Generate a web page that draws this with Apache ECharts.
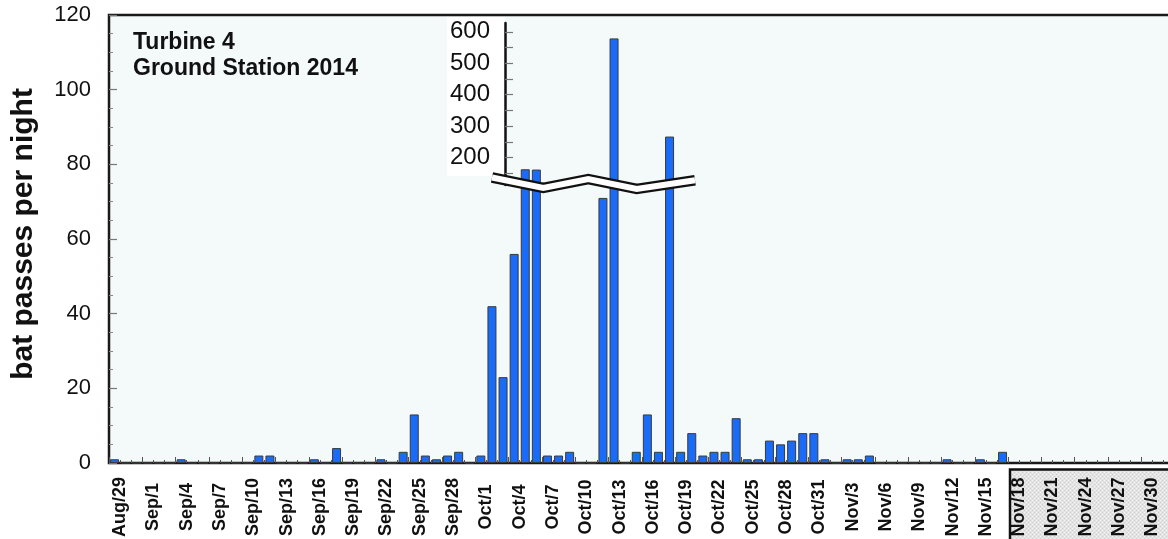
<!DOCTYPE html>
<html><head><meta charset="utf-8">
<script src="https://cdn.jsdelivr.net/npm/echarts@6/dist/echarts.min.js"></script>
<style>html,body{margin:0;padding:0;background:#fff}#c{width:1168px;height:539px}</style>
</head><body><div id="c"></div>
<script>
const categories = [
 'Aug/29','Aug/30','Aug/31',
 'Sep/1','Sep/2','Sep/3','Sep/4','Sep/5','Sep/6','Sep/7','Sep/8','Sep/9','Sep/10',
 'Sep/11','Sep/12','Sep/13','Sep/14','Sep/15','Sep/16','Sep/17','Sep/18','Sep/19','Sep/20',
 'Sep/21','Sep/22','Sep/23','Sep/24','Sep/25','Sep/26','Sep/27','Sep/28','Sep/29','Sep/30',
 'Oct/1','Oct/2','Oct/3','Oct/4','Oct/5','Oct/6','Oct/7','Oct/8','Oct/9','Oct/10',
 'Oct/11','Oct/12','Oct/13','Oct/14','Oct/15','Oct/16','Oct/17','Oct/18','Oct/19','Oct/20',
 'Oct/21','Oct/22','Oct/23','Oct/24','Oct/25','Oct/26','Oct/27','Oct/28','Oct/29','Oct/30','Oct/31',
 'Nov/1','Nov/2','Nov/3','Nov/4','Nov/5','Nov/6','Nov/7','Nov/8','Nov/9','Nov/10',
 'Nov/11','Nov/12','Nov/13','Nov/14','Nov/15','Nov/16','Nov/17','Nov/18','Nov/19','Nov/20',
 'Nov/21','Nov/22','Nov/23','Nov/24','Nov/25','Nov/26','Nov/27','Nov/28','Nov/29','Nov/30',
 'Dec/1','Dec/2'
];
// bat passes per night (null = no data)
const batPasses = [
 1,0,0, 0,0,0,1,0,0,0,0,0,0,
 2,2,0,0,0,1,0,4,0,0,
 0,1,0,3,13,2,1,2,3,0,
 2,42,23,56,163,162,2,2,3,0,
 0,71,579,0,3,13,3,267,3,8,
 2,3,3,12,1,1,6,5,6,8,8,
 1,0,1,1,2,0,0,0,0,0,
 0,1,0,0,1,0,3,null,null,null,
 null,null,null,null,null,null,null,null,null,null,
 null,null
];
const mainAxisTicks = [0, 20, 40, 60, 80, 100, 120];
const insetTickValues = [150, 200, 250, 300, 350, 400, 450, 500, 550, 600];
const insetLabelValues = [200, 300, 400, 500, 600];
const BREAK_AT = 120;      // values above this go to the broken (upper) scale
const BREAK_LOW = 74.5;    // main-scale height where broken bars meet the break

const FONT = '"Liberation Sans", Arial, Helvetica, sans-serif';
const barColor = '#1a6cf8';

const mainData = batPasses.map(v => v == null ? '-' : (v > BREAK_AT ? BREAK_LOW : v));
const insetData = batPasses.map(v => (v != null && v > BREAK_AT) ? v : '-');
// date labels sit on the night boundaries (right edge of each night's band)
const boundaryLabels = [''].concat(categories);

const pc = document.createElement('canvas'); pc.width = 4; pc.height = 4;
const g = pc.getContext('2d');
g.fillStyle = '#e3e3e3'; g.fillRect(0,0,4,4);
g.fillStyle = '#f5f5f5'; g.fillRect(0,0,1,1); g.fillRect(2,2,1,1);
g.fillStyle = '#cfcfcf'; g.fillRect(2,0,1,1); g.fillRect(0,2,1,1);

const zig = [[492,177.5],[543.3,188],[588.3,179],[636.7,189],[695,180.3]];

const chart = echarts.init(document.getElementById('c'), null, {renderer:'canvas', width:1168, height:539});
const gridW = 11.1 * categories.length;
chart.setOption({
  animation: false,
  backgroundColor: '#ffffff',
  textStyle: {fontFamily: FONT},
  title: {
    text: 'Turbine 4\nGround Station 2014',
    left: 133, top: 30, padding: 0,
    textStyle: {fontSize: 23, fontWeight: 'bold', color: '#111', lineHeight: 26, fontFamily: FONT}
  },
  grid: [
    {left: 109, top: 15, width: gridW, height: 448, show: true, outerBoundsMode: 'none', containLabel: false,
     backgroundColor: '#f4f9f9', borderColor: '#1a1a1a', borderWidth: 2.5},
    {left: 109, top: 23, width: gridW, height: 162, show: false, outerBoundsMode: 'none', containLabel: false}
  ],
  xAxis: [
    {type: 'category', gridIndex: 0, data: categories, position: 'bottom',
     axisLine: {show: false},
     axisTick: {show: true, interval: 0, inside: true, length: 3, lineStyle: {color: '#555', width: 1}},
     axisLabel: {show: false},
     splitLine: {show: false}},
    {type: 'category', gridIndex: 0, data: categories, position: 'bottom',
     axisLine: {show: false},
     axisTick: {show: true, interval: 2, inside: true, length: 6, lineStyle: {color: '#555', width: 1}},
     axisLabel: {show: false}, splitLine: {show: false}},
    {type: 'category', gridIndex: 1, data: categories, show: false},
    {type: 'category', gridIndex: 0, data: boundaryLabels, boundaryGap: false, position: 'bottom',
     axisLine: {show: false}, axisTick: {show: false}, splitLine: {show: false},
     axisLabel: {interval: (i) => i % 3 === 1, rotate: 90, align: 'center', verticalAlign: 'middle', margin: 44,
       fontSize: 18, fontWeight: 'bold', color: '#111', fontFamily: FONT}}
  ],
  yAxis: [
    {type: 'value', gridIndex: 0, min: 0, max: 120, interval: 20,
     axisLine: {show: false},
     axisTick: {show: true, inside: true, length: 8, lineStyle: {color: '#777', width: 1.2}},
     minorTick: {show: true, splitNumber: 4, length: 4, lineStyle: {color: '#888', width: 1}},
     axisLabel: {fontSize: 22, color: '#111', margin: 18, fontFamily: FONT},
     splitLine: {show: false},
     name: 'bat passes per night', nameLocation: 'middle', nameGap: 70, nameRotate: 90,
     nameTextStyle: {fontSize: 30, fontWeight: 'bold', color: '#111', fontFamily: FONT, padding: [0, 0, 0, 10]}},
    {type: 'value', gridIndex: 1, min: 113, max: 628, offset: -396, z: 5,
     axisLine: {show: true, lineStyle: {color: '#111', width: 2.5}},
     axisTick: {show: true, inside: true, length: 8, customValues: insetTickValues,
       lineStyle: {color: '#777', width: 1.2}},
     axisLabel: {fontSize: 24, color: '#111', margin: 15, customValues: insetLabelValues, fontFamily: FONT},
     splitLine: {show: false}}
  ],
  series: [
    {type: 'bar', xAxisIndex: 0, yAxisIndex: 0, data: mainData, barWidth: 9, clip: true,
     itemStyle: {color: barColor, borderColor: '#3a3a3a', borderWidth: 1}},
    {type: 'bar', xAxisIndex: 2, yAxisIndex: 1, data: insetData, barWidth: 9, clip: true,
     itemStyle: {color: barColor, borderColor: '#3a3a3a', borderWidth: 1}}
  ],
  graphic: [
    {type: 'rect', z: 1, silent: true, shape: {x: 447, y: 17, width: 58, height: 159}, style: {fill: '#ffffff'}},
    {type: 'polyline', z: 10, silent: true, shape: {points: zig},
     style: {stroke: '#111', lineWidth: 10.5, fill: null, lineJoin: 'miter'}},
    {type: 'polyline', z: 11, silent: true, shape: {points: zig},
     style: {stroke: '#ffffff', lineWidth: 6, fill: null, lineJoin: 'miter'}},
    {type: 'rect', z: -1, silent: true, shape: {x: 1010, y: 469.5, width: 220, height: 120},
     style: {fill: {image: pc, repeat: 'repeat'}, stroke: '#111', lineWidth: 2.5}}
  ]
});
</script></body></html>
